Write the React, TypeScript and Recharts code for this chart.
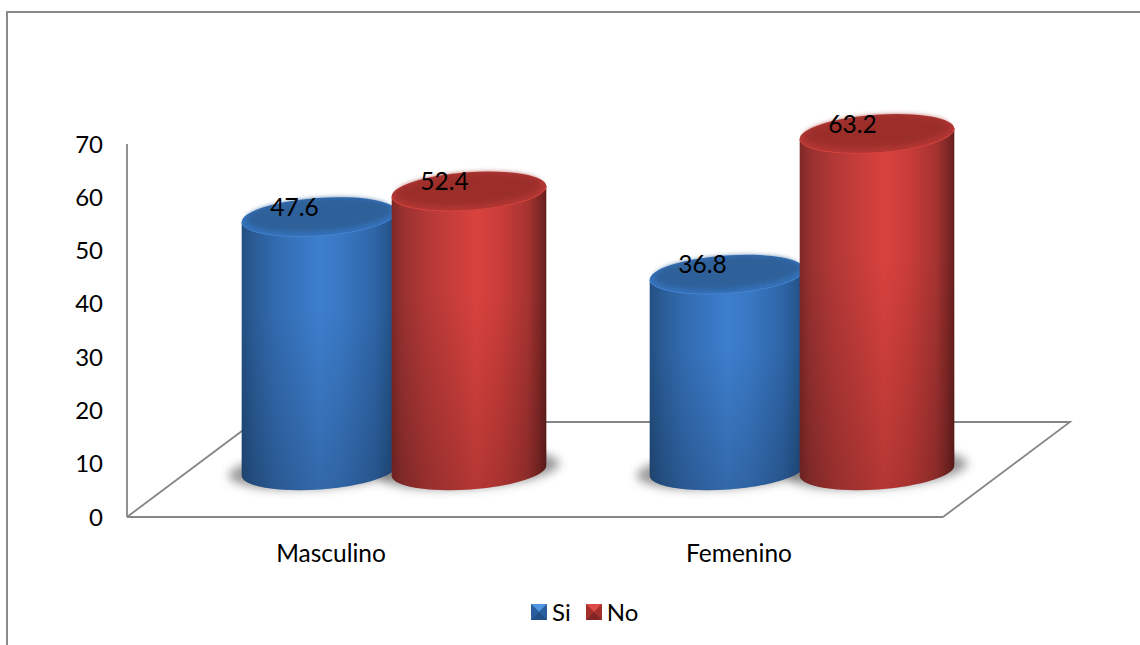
import React from "react";
import { Bar, BarChart, LabelList, Legend, XAxis, YAxis, usePlotArea } from "recharts";

// Survey responses by sex, in percent
const categories = ["Masculino", "Femenino"];
const siValues = [47.6, 36.8];
const noValues = [52.4, 63.2];
const yTicks = [0, 10, 20, 30, 40, 50, 60, 70];
const seriesNames = ["Si", "No"];

const rows = categories.map((name, i) => ({ name, si: siValues[i], no: noValues[i] }));

const FONT = "Lato, Carlito, Calibri, sans-serif";
const AXIS_GREY = "#868686";

// The cylinders stand on a receding floor, so they sit up and right of the axis baseline
const DEPTH_X = 63;
const DEPTH_Y = 46.5;
const RX = 77.5;
const RY = 19;
const TILT = -4;
const COS = Math.cos((TILT * Math.PI) / 180);
const SIN = Math.sin((TILT * Math.PI) / 180);

type Palette = "blue" | "red";

const capColors = {
  blue: { rim: "#4484d0", outer: "#3470b8", inner: "#2d6099" },
  red: { rim: "#d6443e", outer: "#b23633", inner: "#9c2f2c" },
};

const Cylinder = (tone: Palette) => (props: any) => {
  const { x, y, width, height } = props;
  const cx = x + width / 2 + DEPTH_X;
  const topY = y - DEPTH_Y;
  const baseY = y + height - DEPTH_Y;
  const dx = RX * COS;
  const dy = RX * SIN;
  const body = `M ${cx - dx} ${topY - dy} L ${cx - dx} ${baseY - dy} A ${RX} ${RY} ${TILT} 0 0 ${cx + dx} ${baseY + dy} L ${cx + dx} ${topY + dy} Z`;
  const c = capColors[tone];
  const rot = `rotate(${TILT} ${cx} ${topY})`;
  const rim = `M ${cx - dx} ${topY - dy} A ${RX} ${RY} ${TILT} 0 0 ${cx + dx} ${topY + dy}`;
  return (
    <g>
      <path d={body} fill={`url(#side-${tone})`} />
      <path d={body} fill="url(#side-shade)" />
      <ellipse cx={cx} cy={topY} rx={RX} ry={RY} fill={c.outer} transform={rot} />
      <ellipse cx={cx} cy={topY - 2} rx={RX - 5} ry={RY - 3} fill={c.inner} transform={rot} filter="url(#soft-edge)" />
      <path d={rim} fill="none" stroke={c.rim} strokeWidth={1} />
    </g>
  );
};

// Soft contact shadow on the floor under each cylinder
const FloorShadow = (props: any) => {
  const { x, y, width, height } = props;
  const cx = x + width / 2 + DEPTH_X;
  const baseY = y + height - DEPTH_Y;
  return (
    <ellipse
      cx={cx}
      cy={baseY - 1}
      rx={RX + 13}
      ry={RY}
      fill="#555555"
      fillOpacity={0.58}
      filter="url(#floor-blur)"
      transform={`rotate(${TILT} ${cx} ${baseY})`}
    />
  );
};

const Floor = () => {
  const area = usePlotArea();
  if (!area) return null;
  const left = area.x;
  const right = area.x + area.width;
  const front = area.y + area.height;
  const back = front - 95;
  const reach = 127;
  return (
    <path
      d={`M ${left} ${front} L ${left + reach} ${back} L ${right + reach} ${back} L ${right} ${front}`}
      fill="none"
      stroke={AXIS_GREY}
      strokeWidth={1.8}
    />
  );
};

const ValueLabel = (props: any) => {
  const { x, y, width, value } = props;
  return (
    <text
      x={x + width / 2 + DEPTH_X - 24.5}
      y={y - 57}
      textAnchor="middle"
      dominantBaseline="central"
      fontFamily={FONT}
      fontSize={24.5}
      fill="#000"
    >
      {value}
    </text>
  );
};

const LegendSwatch = ({ tone }: { tone: Palette }) => {
  const shades =
    tone === "blue"
      ? { face: "#2c62a4", top: "#5096e0", side: "#2a5e9e", low: "#214f86" }
      : { face: "#ad3331", top: "#dd4b47", side: "#a4302e", low: "#822524" };
  return (
    <svg width={16} height={16} style={{ display: "block" }}>
      <rect x={0} y={0} width={16} height={16} fill={shades.face} />
      <polygon points="0,0 16,0 8,8" fill={shades.top} />
      <polygon points="0,0 8,8 0,16" fill={shades.side} />
      <polygon points="16,0 8,8 16,16" fill={shades.side} />
      <polygon points="0,16 16,16 8,8" fill={shades.low} />
    </svg>
  );
};

const LegendRow = ({ payload }: any) => {
  const entries = seriesNames
    .map((label) => (payload || []).find((entry: any) => entry.value === label))
    .filter(Boolean);
  return (
    <div style={{ display: "flex", alignItems: "center", fontFamily: FONT, fontSize: 24, color: "#000", lineHeight: "26px" }}>
      {entries.map((entry: any, i: number) => (
        <div key={entry.value} style={{ display: "flex", alignItems: "center", marginRight: i === 0 ? 15 : 0 }}>
          <LegendSwatch tone={entry.dataKey === "si" ? "blue" : "red"} />
          <span style={{ marginLeft: 5 }}>{entry.value}</span>
        </div>
      ))}
    </div>
  );
};

const SideGradient = ({ id, stops }: { id: string; stops: [number, string][] }) => (
  <linearGradient id={id} x1="0" y1="0" x2="1" y2="0">
    {stops.map(([o, c]) => (
      <stop key={o} offset={o} stopColor={c} />
    ))}
  </linearGradient>
);

export default function App() {
  return (
    <div style={{ position: "absolute", left: 0, top: 0, width: 1140, height: 645, background: "#fff", overflow: "hidden" }}>
      <div
        style={{
          position: "absolute",
          left: 6,
          top: 11,
          width: 1134,
          height: 634,
          boxSizing: "border-box",
          borderTop: "2px solid #8a8a8a",
          borderLeft: "2px solid #8a8a8a",
        }}
      />
      <BarChart
        width={1140}
        height={645}
        data={rows}
        barSize={150}
        barGap={0}
        margin={{ top: 144, right: 197, bottom: 0, left: 0 }}
        style={{ position: "absolute", left: 0, top: 0 }}
      >
        <defs>
          <SideGradient
            id="side-blue"
            stops={[
              [0, "#234f82"],
              [0.08, "#2a5c96"],
              [0.22, "#326bb0"],
              [0.5, "#3d7ecd"],
              [0.64, "#3978c4"],
              [0.86, "#2e65a7"],
              [1, "#214d80"],
            ]}
          />
          <SideGradient
            id="side-red"
            stops={[
              [0, "#7f2826"],
              [0.07, "#983130"],
              [0.22, "#b23836"],
              [0.55, "#d9423e"],
              [0.7, "#ca3d39"],
              [0.88, "#a63331"],
              [0.96, "#7e2725"],
              [1, "#651e1c"],
            ]}
          />
          <linearGradient id="side-shade" x1="0" y1="0" x2="0" y2="1">
            <stop offset={0} stopColor="#000" stopOpacity={0} />
            <stop offset={0.35} stopColor="#000" stopOpacity={0} />
            <stop offset={1} stopColor="#000" stopOpacity={0.17} />
          </linearGradient>
          <filter id="floor-blur" x="-20%" y="-60%" width="140%" height="220%">
            <feGaussianBlur stdDeviation={5} />
          </filter>
          <filter id="soft-edge" x="-10%" y="-30%" width="120%" height="160%">
            <feGaussianBlur stdDeviation={2.5} />
          </filter>
        </defs>
        <Floor />
        <XAxis
          dataKey="name"
          height={102}
          tickLine={false}
          tickSize={0}
          tickMargin={28}
          interval={0}
          axisLine={{ stroke: AXIS_GREY, strokeWidth: 1.8 }}
          tick={{ fontFamily: FONT, fontSize: 24.5, fill: "#000" }}
        />
        <XAxis xAxisId="floor" dataKey="name" hide />
        <YAxis
          width={127}
          domain={[0, 70]}
          ticks={yTicks}
          interval={0}
          tickLine={false}
          tickSize={0}
          tickMargin={24}
          axisLine={{ stroke: AXIS_GREY, strokeWidth: 1.8 }}
          tick={{ fontFamily: FONT, fontSize: 24, fill: "#000" }}
        />
        <Bar xAxisId="floor" dataKey="si" legendType="none" shape={FloorShadow} isAnimationActive={false} />
        <Bar xAxisId="floor" dataKey="no" legendType="none" shape={FloorShadow} isAnimationActive={false} />
        <Bar dataKey="si" name="Si" fill="#2f69ad" shape={Cylinder("blue")} isAnimationActive={false}>
          <LabelList dataKey="si" content={ValueLabel} />
        </Bar>
        <Bar dataKey="no" name="No" fill="#a93230" shape={Cylinder("red")} isAnimationActive={false}>
          <LabelList dataKey="no" content={ValueLabel} />
        </Bar>
        <Legend
          content={<LegendRow />}
          wrapperStyle={{ position: "absolute", left: 531, top: 599, width: "auto", bottom: "auto" }}
        />
      </BarChart>
    </div>
  );
}
